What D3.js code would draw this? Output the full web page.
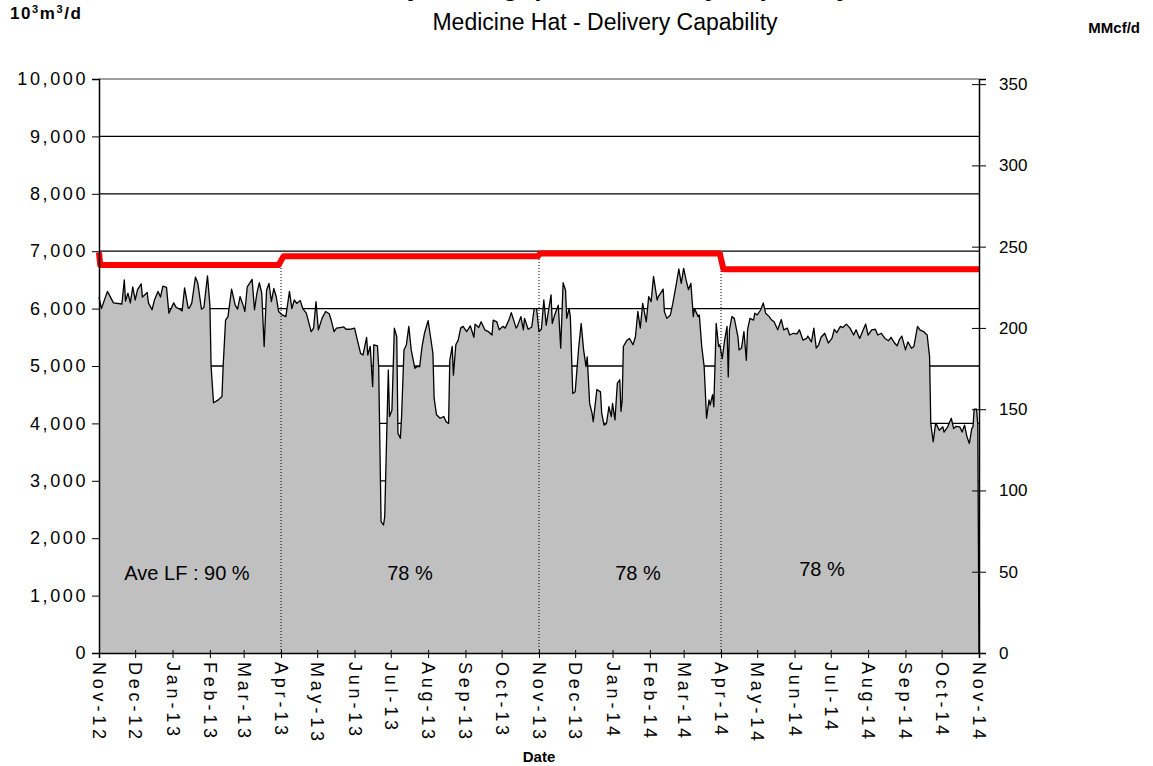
<!DOCTYPE html>
<html>
<head>
<meta charset="utf-8">
<style>
  body { margin: 0; background: #fff; }
  svg { font-family: "Liberation Sans", Arial, sans-serif; }
</style>
</head>
<body>
<div id="chart"></div>
<script src="https://cdn.jsdelivr.net/npm/d3@7"></script>
<script>
// days since 1 Nov 2012
const flowDays = [
  0,2,7,12,19,21,22,24,26,28,30,32,35,36,40,41,44,46,49,51,53,56,58,62,64,67,69,71,74,75,77,80,82,85,87,90,92,93,95,99,102,103,105,107,110,113,115,117,120,
  121,123,127,129,131,133,135,137,139,141,143,145,147,149,152,155,158,160,162,164,167,169,172,176,178,180,182,185,188,191,193,195,197,200,203,205,208,212,214,217,219,222,223,225,227,228,231,232,234,236,237,240,241,
  243,245,247,248,250,251,253,255,257,259,262,264,266,268,270,273,275,277,278,280,283,286,288,290,291,293,294,296,298,300,302,305,308,311,312,315,317,320,323,326,327,330,332,335,337,340,342,344,346,347,350,352,353,356,359,
  361,363,365,367,369,371,373,375,376,378,381,383,385,387,388,390,391,393,395,396,398,400,402,404,405,407,409,410,413,416,417,419,421,423,425,426,428,430,432,433,434,435,438,440,443,445,447,449,451,454,456,458,460,463,464,468,469,471,474,476,479,
  481,483,485,487,489,491,493,494,497,498,500,502,504,506,507,509,510,512,514,515,517,519,521,522,523,525,527,530,531,533,535,537,538,540,543,544,546,549,551,553,556,558,560,563,566,568,571,573,576,579,581,584,587,588,591,593,595,597,599,602,
  605,608,610,612,615,617,620,623,626,628,631,634,636,638,641,644,646,649,652,655,657,660,662,664,666,669,671,674,676,679,681,684,687,689,690,692,694,695,697,700,701,704,707,709,711,714,716,718,720,722,724,725,726,728,729,730
];
// daily deliveries, 10^3 m3/d
const flowValues = [
  6200,6000,6300,6100,6080,6500,6130,6270,6100,6380,6150,6330,6430,6200,6280,6100,5980,6150,6300,6200,6390,6370,5920,6100,6020,5990,5960,6360,6010,6010,6100,6550,6440,5990,6020,6570,6060,4990,4360,4410,4470,5000,5800,5860,6340,6060,5990,6210,6030,
  5950,6380,6510,5980,6270,6450,6270,5340,6320,6440,6120,6350,6210,5950,5890,5860,6300,6000,6150,6090,6140,6000,5920,5600,5660,6120,5630,5830,5950,5910,5770,5600,5660,5670,5680,5640,5640,5660,5480,5220,5190,5500,5190,5340,4640,5370,5350,4990,2290,2230,2370,4930,4120,
  4230,5660,5510,3830,3740,4120,5280,5370,5690,5280,4960,4990,4990,5340,5570,5790,5510,5220,4440,4150,4090,4120,4030,4000,5100,5340,4840,5370,5450,5660,5690,5600,5700,5500,5730,5670,5770,5630,5600,5540,5800,5770,5630,5690,5660,5800,5930,5800,5660,5690,5860,5630,5830,5640,5680,
  6000,6000,5600,5640,6150,5710,5980,6240,5740,5890,6060,5310,6450,6320,5830,6000,5860,4520,4550,4810,5340,5740,5280,4990,5160,4350,4180,4030,4590,4550,4180,3970,4000,4290,4120,4350,4060,4700,4760,4210,4410,5340,5450,5480,5370,5510,5950,5660,6090,5770,6210,6120,6560,6150,6210,6340,5950,5830,5890,6090,6440,
  6690,6440,6700,6500,6330,6440,5860,6000,5860,5890,5340,4990,4090,4410,4320,4500,4290,5740,5340,5370,5130,5450,5690,4810,5630,5860,5830,5510,5280,5310,5600,5100,5630,5830,5800,5920,5890,5980,6100,5920,5860,5800,5770,5630,5810,5630,5660,5540,5570,5560,5630,5450,5480,5520,5420,5660,5310,5370,5500,5570,
  5400,5480,5640,5580,5690,5670,5730,5660,5540,5630,5480,5630,5730,5540,5630,5640,5540,5570,5480,5440,5500,5400,5350,5460,5520,5280,5420,5310,5340,5690,5630,5600,5540,5160,4000,3680,4000,3970,3880,3940,3850,3940,4090,3910,3950,3940,3850,3970,3770,3650,3910,3940,4250,4250,3960,0
];
// delivery capability (red line)
const capDays   = [0, 1, 149, 153, 364, 366, 515, 518, 730];
const capValues = [6980, 6760, 6760, 6910, 6910, 6960, 6960, 6685, 6685];

const periodBreaks = ["2013-04-01", "2013-11-01", "2014-04-01"];
const lfLabels = ["Ave LF : 90 %", "78 %", "78 %", "78 %"];
const leftTicks = [0,1000,2000,3000,4000,5000,6000,7000,8000,9000,10000];
const rightTicks = [0,50,100,150,200,250,300,350];

const M3_TO_MMCF = 0.0353147;
const start = new Date(2012, 10, 1);
const dayToDate = d => d3.timeDay.offset(start, d);
const parse = d3.timeParse("%Y-%m-%d");

const flow = flowDays.map((d, i) => ({ date: dayToDate(d), v: flowValues[i] }));
const cap = capDays.map((d, i) => ({ date: dayToDate(d), v: capValues[i] }));

const W = 1153, H = 766;
const plotL = 99, plotR = 979, plotT = 79, plotB = 653;
const FONT = "Liberation Sans, Arial, sans-serif";

const svg = d3.select("#chart").append("svg")
  .attr("width", W).attr("height", H);

const x = d3.scaleTime().domain([start, new Date(2014, 10, 1)]).range([plotL, plotR]);
const y = d3.scaleLinear().domain([0, 10000]).range([plotB, plotT]);
const yR = d3.scaleLinear().domain([0, 10000 * M3_TO_MMCF]).range([plotB, plotT]);

// gridlines
svg.append("g")
  .selectAll("line")
  .data(leftTicks.filter(t => t > 0))
  .join("line")
  .attr("x1", plotL).attr("x2", plotR)
  .attr("y1", d => y(d)).attr("y2", d => y(d))
  .attr("stroke", d => d === 10000 ? "#808080" : "#000")
  .attr("stroke-width", 1.3);

// flow area
const area = d3.area()
  .x(d => x(d.date))
  .y0(y(0))
  .y1(d => y(d.v));
const line = d3.line()
  .x(d => x(d.date))
  .y(d => y(d.v));

svg.append("path")
  .datum(flow)
  .attr("d", area)
  .attr("fill", "#c0c0c0");
svg.append("path")
  .datum(flow)
  .attr("d", line)
  .attr("fill", "none")
  .attr("stroke", "#000")
  .attr("stroke-width", 1.3)
  .attr("stroke-linejoin", "round");

// period separators
svg.append("g")
  .selectAll("line")
  .data(periodBreaks.map(parse))
  .join("line")
  .attr("x1", d => x(d)).attr("x2", d => x(d))
  .attr("y1", y(0))
  .attr("y2", d => y(d3.max(cap.filter(c => Math.abs(c.date - d) <= 3 * 864e5), c => c.v)))
  .attr("stroke", "#000")
  .attr("stroke-width", 1)
  .attr("stroke-dasharray", "1,2");

// capability line
svg.append("path")
  .datum(cap)
  .attr("d", line)
  .attr("fill", "none")
  .attr("stroke", "#ff0000")
  .attr("stroke-width", 6)
  .attr("stroke-linejoin", "round");

// load factor labels
const lfX = [187, 410, 638, 822];
const lfY = [580, 580, 580, 576];
svg.append("g")
  .selectAll("text")
  .data(lfLabels)
  .join("text")
  .attr("x", (d, i) => lfX[i])
  .attr("y", (d, i) => lfY[i])
  .attr("text-anchor", "middle")
  .attr("font-size", 20)
  .attr("fill", "#000")
  .text(d => d);

// axes
const yAxisL = d3.axisLeft(y).tickValues(leftTicks).tickFormat(d3.format(",")).tickSize(7).tickPadding(4);
const gL = svg.append("g").attr("transform", `translate(${plotL},0)`).call(yAxisL);
gL.select(".domain").attr("stroke", "#000").attr("stroke-width", 1.5);
gL.selectAll("text").attr("font-size", 18).attr("letter-spacing", 2.6).attr("fill", "#000")
  .style("font-family", FONT);

const yAxisR = d3.axisRight(yR).tickValues(rightTicks).tickSize(7).tickPadding(13);
const gR = svg.append("g").attr("transform", `translate(${plotR},0)`).call(yAxisR);
gR.select(".domain").attr("stroke", "#000").attr("stroke-width", 1.5);
gR.selectAll(".tick line").attr("x1", -7);
gR.selectAll("text").attr("font-size", 17).attr("fill", "#000")
  .style("font-family", FONT);

const xAxis = d3.axisBottom(x).ticks(d3.timeMonth.every(1)).tickFormat(d3.timeFormat("%b-%y")).tickSize(5);
const gX = svg.append("g").attr("transform", `translate(0,${plotB})`).call(xAxis);
gX.select(".domain").attr("stroke", "#000").attr("stroke-width", 1.5);
gX.selectAll(".tick line").attr("y1", -3);
gX.selectAll("text")
  .attr("transform", "rotate(90)")
  .attr("x", 9).attr("y", 0).attr("dy", "0.36em")
  .attr("text-anchor", "start")
  .attr("font-size", 18)
  .attr("letter-spacing", 3.8)
  .attr("fill", "#000")
  .style("font-family", FONT);

// titles (the first line sits mostly above the frame, as in the source)
svg.append("text")
  .attr("x", 605).attr("y", -4)
  .attr("text-anchor", "middle")
  .attr("font-size", 26).attr("font-weight", "bold")
  .text("Daily Throughput vs Delivery Capability");
svg.append("text")
  .attr("x", 605).attr("y", 30)
  .attr("text-anchor", "middle")
  .attr("font-size", 23)
  .text("Medicine Hat - Delivery Capability");

const unitL = svg.append("text")
  .attr("x", 10).attr("y", 19)
  .attr("font-size", 17).attr("font-weight", "bold")
  .attr("letter-spacing", 1.6);
unitL.append("tspan").text("10");
unitL.append("tspan").attr("font-size", 11).attr("dy", -6).text("3");
unitL.append("tspan").attr("dy", 6).text("m");
unitL.append("tspan").attr("font-size", 11).attr("dy", -6).text("3");
unitL.append("tspan").attr("dy", 6).text("/d");

svg.append("text")
  .attr("x", 1140).attr("y", 33)
  .attr("text-anchor", "end")
  .attr("font-size", 15).attr("font-weight", "bold")
  .text("MMcf/d");

svg.append("text")
  .attr("x", 539).attr("y", 762)
  .attr("text-anchor", "middle")
  .attr("font-size", 15).attr("font-weight", "bold")
  .text("Date");
</script>
</body>
</html>
